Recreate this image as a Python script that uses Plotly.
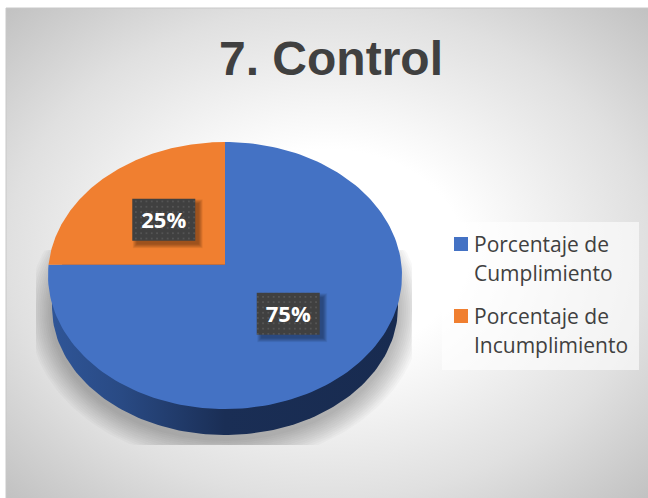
import numpy as np
import plotly.graph_objects as go

title = "7. Control"
categories = ["Porcentaje de<br>Cumplimiento", "Porcentaje de<br>Incumplimiento"]
shares = [75, 25]
label_texts = ["75%", "25%"]
colors = ["#4472c4", "#f07f30"]

# pixel geometry of the tilted pie
APEX = (225.0, 264.7)
TOP = (225.0, 275.5, 177.0, 133.5)
BOTTOM = (225.0, 307.0, 173.0, 128.0)
TILT = TOP[3] / TOP[2]
LABEL_DIST = 88
LABEL_SHIFT = (1, 2)
LEGEND_ROWS = [247, 319]
LEGEND_LINE = 29


def ellipse(e, n=240):
    t = np.linspace(0, 2 * np.pi, n)
    return e[0] + e[2] * np.cos(t), e[1] + e[3] * np.sin(t)


def rim_point(theta):
    # theta is clockwise from 12 o'clock, ray from the apex out to the rim
    cx, cy, rx, ry = TOP
    dx, dy = np.sin(theta), -np.cos(theta) * TILT
    ox, oy = (APEX[0] - cx) / rx, (APEX[1] - cy) / ry
    a = (dx / rx) ** 2 + (dy / ry) ** 2
    b = 2 * (ox * dx / rx + oy * dy / ry)
    c = ox ** 2 + oy ** 2 - 1
    s = (-b + np.sqrt(b ** 2 - 4 * a * c)) / (2 * a)
    return APEX[0] + s * dx, APEX[1] + s * dy


def box(x, y, w, h):
    return [x - w / 2, x + w / 2, x + w / 2, x - w / 2, x - w / 2], [y - h / 2, y - h / 2, y + h / 2, y + h / 2, y - h / 2]


fig = go.Figure()

# radial page background
fig.add_trace(go.Scatter(
    x=[328 - 451, 328 + 451, 328 + 451, 328 - 451, 328 - 451],
    y=[253 - 345, 253 - 345, 253 + 345, 253 + 345, 253 - 345],
    mode='lines', line_width=0, fill='toself', hoverinfo='skip',
    fillgradient=dict(type='radial', colorscale=[[0, '#ffffff'], [0.3, '#ffffff'], [0.71, '#e0e0e0'], [1, '#c2c2c2']])
))

# soft shadow under the pie, cut off at its own box
for grow in range(24, 0, -2):
    sx, sy = ellipse((225, 311, 173 + grow, 128 + grow))
    fig.add_trace(go.Scatter(
        x=np.clip(sx, 36, 412), y=np.clip(sy, 250, 445),
        mode='lines', line_width=0, fill='toself', fillcolor='rgba(0,0,0,0.022)',
        hoverinfo='skip'
    ))

# side wall
wx, wy = ellipse(BOTTOM)
fig.add_trace(go.Scatter(
    x=wx, y=wy, mode='lines', line_width=0, fill='toself', hoverinfo='skip',
    fillgradient=dict(type='horizontal', colorscale=[[0, '#2f5597'], [0.2, '#294a84'], [0.5, '#1a2e55'], [1, '#182b50']])
))

# slices
start = 0.0
label_pos = []
for cat, share, color in zip(categories, shares, colors):
    sweep = share / sum(shares) * 2 * np.pi
    thetas = np.linspace(start, start + sweep, 160)
    rx, ry = zip(*[rim_point(t) for t in thetas])
    fig.add_trace(go.Scatter(
        x=[APEX[0], *rx, APEX[0]], y=[APEX[1], *ry, APEX[1]],
        mode='lines', line_width=0, fill='toself', fillcolor=color,
        name=cat, hoverinfo='skip'
    ))
    mid = start + sweep / 2
    label_pos.append((APEX[0] + LABEL_DIST * np.sin(mid) + LABEL_SHIFT[0],
                      APEX[1] - LABEL_DIST * np.cos(mid) * TILT + LABEL_SHIFT[1]))
    start += sweep

# data labels: drop shadow, dotted box, text
for (lx, ly), txt in zip(label_pos, label_texts):
    for grow in range(9, 0, -1):
        bx, by = box(lx + 4, ly + 4, 61 + grow, 40 + grow)
        fig.add_trace(go.Scatter(
            x=bx, y=by, mode='lines', line_width=0, fill='toself', fillcolor='rgba(0,0,0,0.045)',
            hoverinfo='skip'
        ))
    bx, by = box(lx, ly, 63, 42)
    fig.add_trace(go.Scatter(
        x=bx, y=by, mode='lines', line_width=0, fill='toself', hoverinfo='skip',
        fillpattern=dict(shape='.', size=5.3, solidity=0.07, fgcolor='#5e5e5e', bgcolor='#404040', fillmode='replace')
    ))
    fig.add_trace(go.Scatter(
        x=[lx], y=[ly + 3], mode='text', text=[txt], hoverinfo='skip',
        textfont=dict(family='Open Sans', size=22, color='white', weight='bold')
    ))

# legend panel, drawn by hand because it needs 29px line spacing
bx, by = box(540.5, 296, 197, 148)
fig.add_trace(go.Scatter(
    x=bx, y=by, mode='lines', line_width=0, fill='toself', fillcolor='rgba(255,255,255,0.6)', hoverinfo='skip'
))
for cat, color, row in zip(categories, colors, LEGEND_ROWS):
    fig.add_trace(go.Scatter(
        x=[461], y=[row - 3], mode='markers', hoverinfo='skip',
        marker=dict(symbol='square', size=14, color=color, line_width=0)
    ))
    lines = cat.split('<br>')
    fig.add_trace(go.Scatter(
        x=[474] * len(lines), y=[row + i * LEGEND_LINE for i in range(len(lines))],
        mode='text', text=lines, textposition='middle right', hoverinfo='skip',
        textfont=dict(family='Open Sans', size=21, color='#404040')
    ))

fig.update_layout(
    width=648, height=498,
    showlegend=False,
    margin=dict(l=6, r=0, t=8, b=0, autoexpand=False),
    paper_bgcolor='white', plot_bgcolor='white',
    title=dict(text=title, x=331 / 648, xanchor='center', y=1 - 58 / 498, yanchor='middle',
               font=dict(family='Liberation Sans', size=48, color='#404040', weight='bold')),
    xaxis=dict(visible=False, range=[6, 648], fixedrange=True),
    yaxis=dict(visible=False, range=[498, 8], fixedrange=True),
    shapes=[dict(type='line', xref='paper', yref='paper', x0=0, x1=0, y0=0, y1=1, line=dict(color='#c8c8c8', width=1)),
            dict(type='line', xref='paper', yref='paper', x0=0, x1=1, y0=1, y1=1, line=dict(color='#c8c8c8', width=1))]
)

fig.write_html("out.html", post_script="document.body.style.margin='0';", config=dict(displayModeBar=False))
